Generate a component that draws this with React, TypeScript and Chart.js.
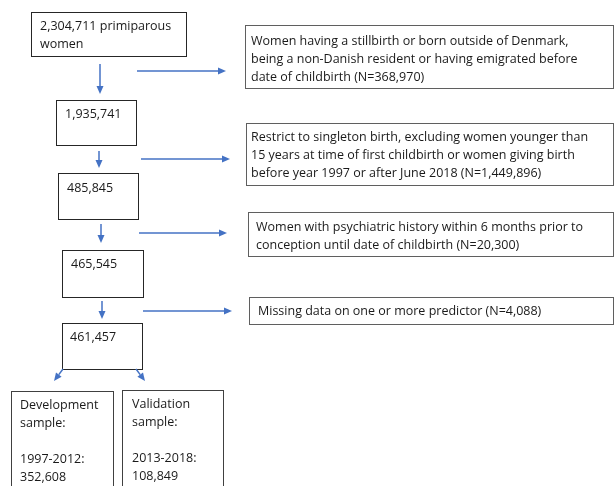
import React, { useEffect, useRef } from "react";
import { Chart, registerables } from "chart.js";

Chart.register(...registerables);

// ---- data ----
const stageCounts = [2304711, 1935741, 485845, 465545, 461457];
const stageLabels = ["primiparous women", "", "", "", ""];
const exclusionCounts = [368970, 1449896, 20300, 4088];
const exclusionTexts = [
  ["Women having a stillbirth or born outside of Denmark,", "being a non-Danish resident or having emigrated before", "date of childbirth (N=%)"],
  ["Restrict to singleton birth, excluding women younger than", "15 years at time of first childbirth or women giving birth", "before year 1997 or after June 2018 (N=%)"],
  ["Women with psychiatric history within 6 months prior to", "conception until date of childbirth (N=%)"],
  ["Missing data on one or more predictor (N=%)"],
];
const splitNames = ["Development", "Validation"];
const splitPeriods = ["1997-2012", "2013-2018"];
const splitCounts = [352608, 108849];

// ---- layout (pixel space of the 614x486 figure) ----
const stageBoxes = [
  { x0: 31, y0: 12, x1: 186, y1: 56, tx: 40, ty: 26 },
  { x0: 56, y0: 100, x1: 136, y1: 145, tx: 65, ty: 114 },
  { x0: 58, y0: 173, x1: 138, y1: 219, tx: 67, ty: 188 },
  { x0: 62, y0: 250, x1: 143, y1: 297, tx: 71, ty: 264 },
  { x0: 62, y0: 323, x1: 142, y1: 369, tx: 70, ty: 337 },
];
const exclBoxes = [
  { x0: 245, y0: 25, x1: 613, y1: 88, tx: 251, ty: 41 },
  { x0: 246, y0: 123, x1: 613, y1: 185, tx: 251, ty: 137 },
  { x0: 248, y0: 212, x1: 613, y1: 256, tx: 256, ty: 227 },
  { x0: 249, y0: 297, x1: 613, y1: 324, tx: 258, ty: 311 },
];
const downArrows = [
  { x: 100, y0: 64, y1: 94 },
  { x: 99, y0: 151, y1: 168 },
  { x: 101, y0: 224, y1: 243 },
  { x: 102, y0: 301, y1: 319 },
];
const sideArrows = [
  { y: 71, x0: 137, x1: 226 },
  { y: 159, x0: 141, x1: 230 },
  { y: 233, x0: 139, x1: 227 },
  { y: 311, x0: 143, x1: 232 },
];
const splitBoxes = [
  { x0: 11, y0: 391, x1: 113, y1: 500, tx: 20, ty: 405 },
  { x0: 122, y0: 390, x1: 223, y1: 500, tx: 132, ty: 404 },
];
const diagArrows = [
  { x0: 63, y0: 369, x1: 54, y1: 381 },
  { x0: 136, y0: 369, x1: 145, y1: 381 },
];

const fmt = (n: number) => n.toLocaleString("en-US");
const FONT = "12.5px 'Open Sans', 'Noto Sans', sans-serif";
const ARROW = "#4472C4";
const LH = 18;

const flowPlugin = {
  id: "flow",
  afterDraw(chart: any) {
    const ctx: CanvasRenderingContext2D = chart.ctx;
    const xs = chart.scales.x;
    const ys = chart.scales.y;
    const X = (v: number) => xs.getPixelForValue(v);
    const Y = (v: number) => ys.getPixelForValue(v);
    ctx.save();
    ctx.fillStyle = "#ffffff";
    ctx.fillRect(0, 0, chart.width, chart.height);

    const rect = (b: any, color: string, lw: number) => {
      ctx.strokeStyle = color;
      ctx.lineWidth = lw;
      ctx.strokeRect(X(b.x0) + 0.5, Y(b.y0) + 0.5, X(b.x1) - X(b.x0), Y(b.y1) - Y(b.y0));
    };
    const lines = (arr: string[], tx: number, ty: number) => {
      ctx.fillStyle = "#1a1a1a";
      ctx.font = FONT;
      ctx.textBaseline = "middle";
      ctx.textAlign = "left";
      arr.forEach((s, i) => {
        if (s) ctx.fillText(s, X(tx), Y(ty + i * LH));
      });
    };
    const arrow = (x0: number, y0: number, x1: number, y1: number) => {
      const px0 = X(x0), py0 = Y(y0), px1 = X(x1), py1 = Y(y1);
      const ang = Math.atan2(py1 - py0, px1 - px0);
      const hl = 8, hw = 3.5;
      const bx = px1 - hl * Math.cos(ang), by = py1 - hl * Math.sin(ang);
      ctx.strokeStyle = ARROW;
      ctx.fillStyle = ARROW;
      ctx.lineWidth = 1.5;
      ctx.beginPath();
      ctx.moveTo(px0, py0);
      ctx.lineTo(bx, by);
      ctx.stroke();
      ctx.beginPath();
      ctx.moveTo(px1, py1);
      ctx.lineTo(bx + hw * Math.sin(ang), by - hw * Math.cos(ang));
      ctx.lineTo(bx - hw * Math.sin(ang), by + hw * Math.cos(ang));
      ctx.closePath();
      ctx.fill();
    };

    stageBoxes.forEach((b, i) => {
      rect(b, "#262626", 1);
      const first = stageLabels[i] ? `${fmt(stageCounts[i])} ${stageLabels[i].split(" ")[0]}` : fmt(stageCounts[i]);
      const rest = stageLabels[i] ? stageLabels[i].split(" ").slice(1).join(" ") : "";
      lines([first, rest], b.tx, b.ty);
    });
    exclBoxes.forEach((b, i) => {
      rect(b, "#5f5f5f", 1);
      lines(exclusionTexts[i].map((s) => s.replace("%", fmt(exclusionCounts[i]))), b.tx, b.ty);
    });
    splitBoxes.forEach((b, i) => {
      rect(b, "#404040", 1);
      lines([splitNames[i], "sample:", "", splitPeriods[i] + ":", fmt(splitCounts[i])], b.tx, b.ty);
    });
    downArrows.forEach((a) => arrow(a.x, a.y0, a.x, a.y1));
    sideArrows.forEach((a) => arrow(a.x0, a.y, a.x1, a.y));
    diagArrows.forEach((a) => arrow(a.x0, a.y0, a.x1, a.y1));
    ctx.restore();
  },
};

export default function App() {
  const ref = useRef<HTMLCanvasElement | null>(null);
  useEffect(() => {
    if (!ref.current) return;
    const chart = new Chart(ref.current, {
      type: "scatter",
      data: {
        datasets: [
          {
            data: stageCounts.map((c, i) => ({ x: stageBoxes[i].tx, y: stageBoxes[i].ty })),
            pointRadius: 0,
            showLine: false,
          },
        ],
      },
      options: {
        animation: false,
        responsive: false,
        maintainAspectRatio: false,
        layout: { padding: 0 },
        events: [],
        plugins: { legend: { display: false }, tooltip: { enabled: false } },
        scales: {
          x: { type: "linear", min: 0, max: 614, display: false },
          y: { type: "linear", min: 0, max: 486, reverse: true, display: false },
        },
      },
      plugins: [flowPlugin],
    });
    return () => chart.destroy();
  }, []);
  return (
    <div style={{ position: "fixed", left: 0, top: 0, width: 614, height: 486, background: "#fff" }}>
      <canvas ref={ref} width={614} height={486} style={{ width: 614, height: 486, display: "block" }} />
    </div>
  );
}
